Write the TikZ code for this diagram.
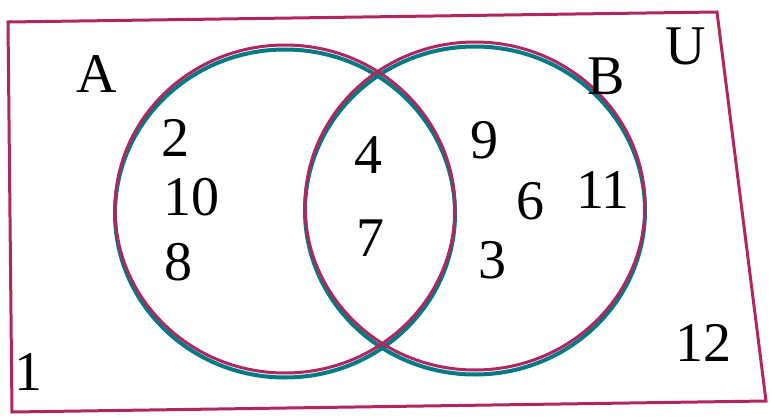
\documentclass[tikz,border=0pt]{standalone}
\usepackage{fontspec}
\newfontfamily\vennfont{Liberation Serif}
\usepackage{tikz}
\usetikzlibrary{positioning}
\definecolor{vennpink}{RGB}{178,38,96}
\definecolor{venteal}{RGB}{0,122,132}

\begin{document}
\begin{tikzpicture}[
    x=1pt, y=-1pt,
    lbl/.style={font=\vennfont\fontsize{56}{56}\selectfont, inner sep=0pt},
    frame/.style={draw=vennpink, line width=3pt},
    ringout/.style={draw=vennpink, line width=3pt},
    ringin/.style={draw=venteal, line width=4pt}
]
\useasboundingbox[fill=white] (0,0) rectangle (772,418);
% universe box
\coordinate (tl) at (8,22);
\coordinate (tr) at (717,12);
\coordinate (br) at (766,401);
\coordinate (bl) at (12,412);
\draw[frame] (tl) -- (tr) -- (br) -- (bl) -- cycle;
% sets
\coordinate (ca) at (285,211);
\coordinate (cb) at (475,208);
\draw[ringin] ([yshift=-2.5pt]ca) ellipse [x radius=170, y radius=164];
\draw[ringin] ([yshift=-2.5pt]cb) ellipse [x radius=170, y radius=164];
\draw[ringout] ([yshift=2pt]ca) ellipse [x radius=170, y radius=164];
\draw[ringout] ([yshift=2pt]cb) ellipse [x radius=170, y radius=164];
% labels
\node[lbl] (seta) at (97,74) {A};
\node[lbl] (setb) at (606,76) {B};
\node[lbl] (setu) at (686,46) {U};
\node[lbl] (n2) at (175,138) {2};
\node[lbl] (n10) at (191,197) {10};
\node[lbl] (n8) at (178,262) {8};
\node[lbl] (n4) at (368,155) {4};
\node[lbl] (n7) at (370,238) {7};
\node[lbl] (n9) at (484,140) {9};
\node[lbl] (n6) at (530,201) {6};
\node[lbl] (n11) at (603,190) {11};
\node[lbl] (n3) at (492,260) {3};
\node[lbl] (n1) at (28,372) {1};
\node[lbl] (n12) at (703,343) {12};
\end{tikzpicture}
\end{document}
